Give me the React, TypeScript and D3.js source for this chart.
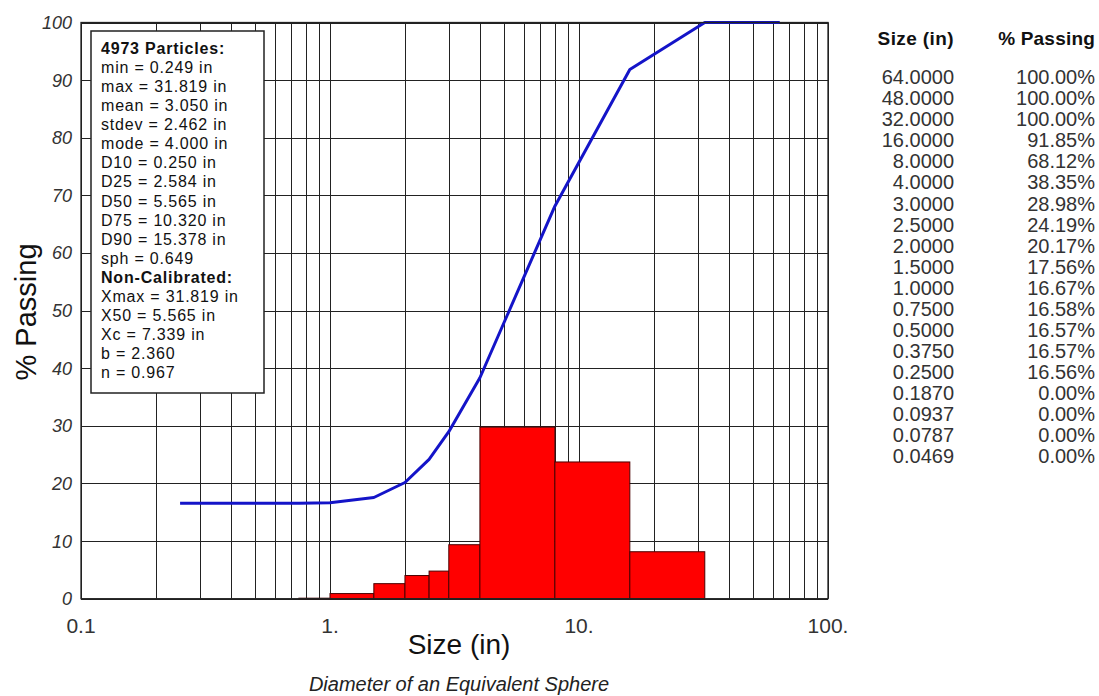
import React from "react";
import * as d3 from "d3";

// sieve table (as listed on the right)
const sizes = [64, 48, 32, 16, 8, 4, 3, 2.5, 2, 1.5, 1, 0.75, 0.5, 0.375, 0.25, 0.187, 0.0937, 0.0787, 0.0469];
const passing = [100, 100, 100, 91.85, 68.12, 38.35, 28.98, 24.19, 20.17, 17.56, 16.67, 16.58, 16.57, 16.57, 16.56, 0, 0, 0, 0];
const sizeLabels = ["64.0000", "48.0000", "32.0000", "16.0000", "8.0000", "4.0000", "3.0000", "2.5000", "2.0000", "1.5000", "1.0000", "0.7500", "0.5000", "0.3750", "0.2500", "0.1870", "0.0937", "0.0787", "0.0469"];

const statsLines = [
  { t: "4973 Particles:", bold: true },
  { t: "min = 0.249 in" },
  { t: "max = 31.819 in" },
  { t: "mean = 3.050 in" },
  { t: "stdev = 2.462 in" },
  { t: "mode = 4.000 in" },
  { t: "D10 = 0.250 in" },
  { t: "D25 = 2.584 in" },
  { t: "D50 = 5.565 in" },
  { t: "D75 = 10.320 in" },
  { t: "D90 = 15.378 in" },
  { t: "sph = 0.649" },
  { t: "Non-Calibrated:", bold: true },
  { t: "Xmax = 31.819 in" },
  { t: "X50 = 5.565 in" },
  { t: "Xc = 7.339 in" },
  { t: "b = 2.360" },
  { t: "n = 0.967" },
];

const xTicks = [0.1, 1, 10, 100];
const xTickLabels = ["0.1", "1.", "10.", "100."];
const yTicks = [0, 10, 20, 30, 40, 50, 60, 70, 80, 90, 100];

const W = 1099;
const H = 696;
const plot = { left: 81, right: 828, top: 22.5, bottom: 598.7 };

export default function App() {
  const x = d3.scaleLog().domain([0.1, 100]).range([plot.left, plot.right]);
  const y = d3.scaleLinear().domain([0, 100]).range([plot.bottom, plot.top]);

  // minor grid: 1..9 per decade
  const vGrid: number[] = [];
  [0.1, 1, 10].forEach((dec) => {
    for (let k = 1; k <= 9; k++) vGrid.push(dec * k);
  });
  vGrid.push(100);

  // ascending points for curve, starting where passing > 0
  const pts = sizes
    .map((s, i) => ({ s, p: passing[i] }))
    .filter((d) => d.p > 0)
    .sort((a, b) => a.s - b.s);

  const bars = pts.slice(0, -1).map((d, i) => ({
    lo: d.s,
    hi: pts[i + 1].s,
    v: pts[i + 1].p - d.p,
  })).filter((b) => b.v > 0.05);

  const line = d3
    .line<{ s: number; p: number }>()
    .x((d) => x(d.s))
    .y((d) => y(d.p));

  const font = "'Liberation Sans', Arial, sans-serif";
  const rowY = (i: number) => 77 + i * 21.05;

  return (
    <div style={{ position: "absolute", left: 0, top: 0 }}>
      <svg width={W} height={H} style={{ display: "block", background: "#fff" }} fontFamily={font}>
        {/* grid */}
        {vGrid.map((v, i) => (
          <line key={"v" + i} x1={Math.round(x(v)) + 0.5} x2={Math.round(x(v)) + 0.5} y1={plot.top} y2={plot.bottom} stroke="#222" strokeWidth={1} />
        ))}
        {yTicks.map((t) => (
          <line key={"h" + t} x1={plot.left} x2={plot.right} y1={Math.round(y(t)) + 0.5} y2={Math.round(y(t)) + 0.5} stroke="#222" strokeWidth={1} />
        ))}

        {/* histogram */}
        {bars.map((b, i) => (
          <rect
            key={"b" + i}
            x={x(b.lo)}
            y={y(b.v)}
            width={x(b.hi) - x(b.lo)}
            height={y(0) - y(b.v)}
            fill="#ff0000"
            stroke="#4a0000"
            strokeWidth={1}
          />
        ))}

        {/* cumulative curve */}
        <path d={line(pts) ?? undefined} fill="none" stroke="#1414c8" strokeWidth={3} strokeLinejoin="round" />

        {/* frame */}
        <rect x={plot.left} y={plot.top} width={plot.right - plot.left} height={plot.bottom - plot.top} fill="none" stroke="#222" strokeWidth={1.3} />

        {/* stats box */}
        <rect x={91} y={31} width={173} height={362} fill="#fff" stroke="#222" strokeWidth={1.5} />
        {statsLines.map((l, i) => (
          <text
            key={"s" + i}
            x={101}
            y={48 + i * 19.1}
            dy="0.36em"
            fontSize={16}
            fontWeight={l.bold ? "bold" : "normal"}
            letterSpacing={0.8}
            fill="#111"
          >
            {l.t}
          </text>
        ))}

        {/* y axis labels */}
        {yTicks.map((t) => (
          <text key={"yl" + t} x={72} y={y(t)} dy="0.36em" textAnchor="end" fontSize={18} fontStyle="italic" fill="#333">
            {t}
          </text>
        ))}
        <text transform="translate(36,312) rotate(-90)" textAnchor="middle" fontSize={29} fill="#111">
          % Passing
        </text>

        {/* x axis labels */}
        {xTicks.map((t, i) => (
          <text key={"xl" + i} x={x(t)} y={633} textAnchor="middle" fontSize={21} fill="#333">
            {xTickLabels[i]}
          </text>
        ))}
        <text x={459} y={654} textAnchor="middle" fontSize={28} fill="#111">
          Size (in)
        </text>
        <text x={459} y={691} textAnchor="middle" fontSize={20} fontStyle="italic" fill="#222">
          Diameter of an Equivalent Sphere
        </text>

        {/* table */}
        <text x={954} y={38} dy="0.36em" textAnchor="end" fontSize={19} fontWeight="bold" letterSpacing={0.4} fill="#111">
          Size (in)
        </text>
        <text x={1095} y={38} dy="0.36em" textAnchor="end" fontSize={19} fontWeight="bold" letterSpacing={0.2} fill="#111">
          % Passing
        </text>
        {sizeLabels.map((s, i) => (
          <g key={"r" + i}>
            <text x={954} y={rowY(i)} dy="0.36em" textAnchor="end" fontSize={20} fill="#333">
              {s}
            </text>
            <text x={1095} y={rowY(i)} dy="0.36em" textAnchor="end" fontSize={20} fill="#333">
              {passing[i].toFixed(2) + "%"}
            </text>
          </g>
        ))}
      </svg>
    </div>
  );
}
